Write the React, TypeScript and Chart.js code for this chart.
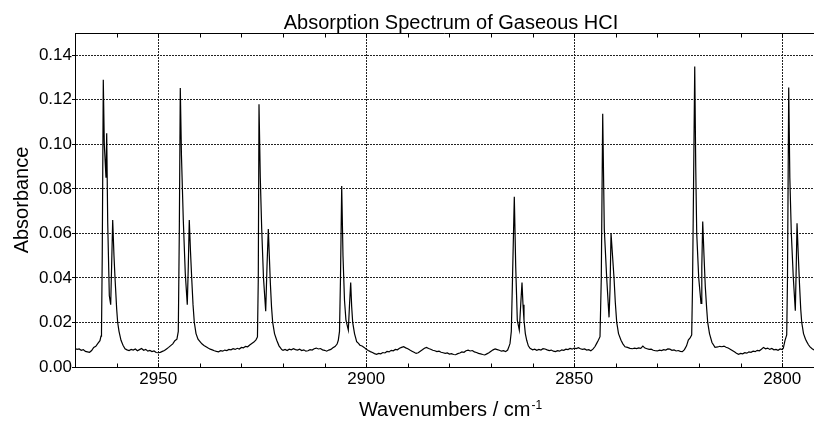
import { useEffect, useRef } from 'react';
import { Chart, registerables } from 'chart.js';

Chart.register(...registerables);

// ---- data: [wavenumber (cm-1), absorbance] ----
const baseline1: [number, number][] = [
  [2970.0, 0.0084], [2969.5, 0.0079], [2969.0, 0.0081], [2968.5, 0.0075], [2968.0, 0.0078],
  [2967.5, 0.0070], [2967.0, 0.0068], [2966.5, 0.0066], [2966.0, 0.0074], [2965.5, 0.0088],
  [2965.0, 0.0093], [2964.5, 0.0106], [2964.0, 0.0118], [2963.75, 0.0139],
];
const bandR3: [number, number][] = [
  [2963.63, 0.016], [2963.45, 0.05], [2963.2, 0.129], [2962.96, 0.1], [2962.55, 0.085],
  [2962.38, 0.105], [2962.14, 0.065], [2961.75, 0.032], [2961.42, 0.028], [2961.2, 0.045],
  [2960.94, 0.066], [2960.63, 0.05], [2960.38, 0.04], [2959.98, 0.026], [2959.74, 0.02],
  [2959.42, 0.016], [2958.94, 0.012], [2958.46, 0.0098], [2957.98, 0.0082],
];
const baseline2: [number, number][] = [
  [2957.5, 0.0077], [2957.0, 0.0074], [2956.5, 0.0079], [2956.0, 0.0076], [2955.5, 0.0081],
  [2955.0, 0.0073], [2954.5, 0.0078], [2954.0, 0.0083], [2953.5, 0.0075], [2953.0, 0.0079],
  [2952.5, 0.0071], [2952.0, 0.0074], [2951.5, 0.0069], [2951.0, 0.0072], [2950.5, 0.0065],
  [2950.0, 0.0064], [2949.5, 0.0066], [2949.0, 0.007], [2948.5, 0.0074], [2948.0, 0.0081],
  [2947.5, 0.0088], [2947.0, 0.0096], [2946.5, 0.0104], [2946.0, 0.0118], [2945.5, 0.0125],
];
const bandR2: [number, number][] = [
  [2945.17, 0.016], [2944.93, 0.06], [2944.69, 0.1253], [2944.41, 0.095], [2943.97, 0.066],
  [2943.49, 0.042], [2943.01, 0.028], [2942.77, 0.045], [2942.53, 0.066], [2942.24, 0.052],
  [2941.95, 0.04], [2941.63, 0.028], [2941.32, 0.02], [2940.91, 0.015], [2940.43, 0.0125],
  [2939.95, 0.0114], [2939.5, 0.0104], [2939.0, 0.0097], [2938.5, 0.0091], [2938.0, 0.0085],
];
const baseline3: [number, number][] = [
  [2937.5, 0.008], [2937.0, 0.0077], [2936.5, 0.0073], [2936.0, 0.007], [2935.5, 0.0068],
  [2935.0, 0.0073], [2934.5, 0.0071], [2934.0, 0.0076], [2933.5, 0.0074], [2933.0, 0.0079],
  [2932.5, 0.0077], [2932.0, 0.0082], [2931.5, 0.0079], [2931.0, 0.0084], [2930.5, 0.0081],
  [2930.0, 0.0088], [2929.5, 0.0086], [2929.0, 0.0093], [2928.5, 0.0091], [2928.0, 0.0099],
  [2927.5, 0.0106], [2927.0, 0.0112], [2926.5, 0.0122], [2926.14, 0.0135],
];
const bandR1: [number, number][] = [
  [2925.94, 0.04], [2925.77, 0.118], [2925.46, 0.085], [2925.12, 0.062], [2924.69, 0.04],
  [2924.16, 0.025], [2923.85, 0.045], [2923.53, 0.062], [2923.29, 0.05], [2923.05, 0.038],
  [2922.76, 0.027], [2922.48, 0.02], [2922.04, 0.015], [2921.51, 0.012], [2920.96, 0.0095],
  [2920.31, 0.0078],
];
const baseline4: [number, number][] = [
  [2920.0, 0.0075], [2919.5, 0.0079], [2919.0, 0.0074], [2918.5, 0.008], [2918.0, 0.0077],
  [2917.5, 0.0082], [2917.0, 0.0078], [2916.5, 0.0076], [2916.0, 0.008], [2915.5, 0.0074],
  [2915.0, 0.0077], [2914.5, 0.0071], [2914.0, 0.0073], [2913.5, 0.0078], [2913.0, 0.0076],
  [2912.5, 0.0082], [2912.0, 0.0085], [2911.5, 0.0081], [2911.0, 0.0083], [2910.5, 0.0077],
  [2910.0, 0.0075], [2909.5, 0.0071], [2909.0, 0.0076], [2908.5, 0.0079], [2908.0, 0.0086],
  [2907.5, 0.0092], [2907.0, 0.0103], [2906.71, 0.012],
];
const bandR0: [number, number][] = [
  [2906.42, 0.016], [2906.18, 0.04], [2905.89, 0.0813], [2905.58, 0.05], [2905.22, 0.03],
  [2904.87, 0.021], [2904.3, 0.0166], [2904.01, 0.028], [2903.73, 0.0379], [2903.49, 0.027],
  [2903.25, 0.02], [2902.81, 0.015], [2902.29, 0.0114], [2901.85, 0.0106], [2901.51, 0.0098],
  [2901.0, 0.0094], [2900.5, 0.0088], [2900.0, 0.008],
];
const baseline5: [number, number][] = [
  [2899.5, 0.0074], [2899.0, 0.0069], [2898.5, 0.0065], [2898.0, 0.006], [2897.5, 0.0057],
  [2897.0, 0.0061], [2896.5, 0.0059], [2896.0, 0.0065], [2895.5, 0.0063], [2895.0, 0.007],
  [2894.5, 0.0068], [2894.0, 0.0075], [2893.5, 0.0073], [2893.0, 0.0079], [2892.5, 0.0077],
  [2892.0, 0.0084], [2891.5, 0.0088], [2891.0, 0.0091], [2890.5, 0.0086], [2890.0, 0.0082],
  [2889.5, 0.0076], [2889.0, 0.0071], [2888.5, 0.0066], [2888.0, 0.0061], [2887.5, 0.0064],
  [2887.0, 0.0071], [2886.5, 0.0077], [2886.0, 0.0084], [2885.5, 0.0088], [2885.0, 0.0083],
  [2884.5, 0.008], [2884.0, 0.0075], [2883.5, 0.0073], [2883.0, 0.0069], [2882.5, 0.0071],
  [2882.0, 0.0066], [2881.5, 0.0064], [2881.0, 0.0061], [2880.5, 0.0063], [2880.0, 0.0058],
  [2879.5, 0.006], [2879.0, 0.0056], [2878.5, 0.0055], [2878.0, 0.006], [2877.5, 0.0063],
  [2877.0, 0.0068], [2876.5, 0.0066], [2876.0, 0.0073], [2875.5, 0.0076], [2875.0, 0.0072],
  [2874.5, 0.0074], [2874.0, 0.0068], [2873.5, 0.0065], [2873.0, 0.0061], [2872.5, 0.0059],
  [2872.0, 0.0056], [2871.5, 0.0054], [2871.0, 0.0059], [2870.5, 0.0064], [2870.0, 0.0071],
  [2869.5, 0.0077], [2869.0, 0.0081], [2868.5, 0.0078], [2868.0, 0.0075], [2867.5, 0.0071],
  [2867.0, 0.0073], [2866.5, 0.0069], [2866.0, 0.0076], [2865.6, 0.0096], [2865.43, 0.0106],
];
const bandP1: [number, number][] = [
  [2865.12, 0.016], [2864.83, 0.04], [2864.4, 0.0765], [2864.06, 0.045], [2863.68, 0.021],
  [2863.2, 0.0166], [2862.86, 0.028], [2862.55, 0.0379], [2862.31, 0.028], [2862.07, 0.021],
  [2861.75, 0.015], [2861.42, 0.012], [2861.03, 0.0095], [2860.62, 0.0084],
];
const baseline6: [number, number][] = [
  [2860.0, 0.0077], [2859.5, 0.008], [2859.0, 0.0075], [2858.5, 0.0079], [2858.0, 0.0076],
  [2857.5, 0.0082], [2857.0, 0.0081], [2856.5, 0.0077], [2856.0, 0.0074], [2855.5, 0.0076],
  [2855.0, 0.0071], [2854.5, 0.0069], [2854.0, 0.0073], [2853.5, 0.0071], [2853.0, 0.0077],
  [2852.5, 0.0075], [2852.0, 0.008], [2851.5, 0.0078], [2851.0, 0.0083], [2850.5, 0.008],
  [2850.0, 0.0085], [2849.5, 0.0083], [2849.0, 0.0087], [2848.5, 0.0082], [2848.0, 0.0079],
  [2847.5, 0.0081], [2847.0, 0.0076], [2846.5, 0.0078], [2846.0, 0.0073], [2845.5, 0.008],
  [2845.0, 0.0092], [2844.6, 0.0106], [2844.2, 0.012], [2843.8, 0.0136],
];
const bandP2: [number, number][] = [
  [2843.49, 0.04], [2843.15, 0.1137], [2842.77, 0.062], [2842.19, 0.04], [2841.63, 0.0223],
  [2841.39, 0.035], [2841.15, 0.06], [2840.79, 0.05], [2840.43, 0.04], [2840.12, 0.029],
  [2839.78, 0.02], [2839.35, 0.015], [2838.75, 0.012], [2838.3, 0.0104], [2837.79, 0.0091],
  [2837.2, 0.0088], [2836.59, 0.0084],
];
const baseline7: [number, number][] = [
  [2836.0, 0.0082], [2835.5, 0.0085], [2835.0, 0.0083], [2834.5, 0.0086], [2834.0, 0.0084],
  [2833.5, 0.0094], [2833.0, 0.0085], [2832.5, 0.0082], [2832.0, 0.0079], [2831.5, 0.008],
  [2831.0, 0.0075], [2830.5, 0.0073], [2830.0, 0.0072], [2829.5, 0.0076], [2829.0, 0.0074],
  [2828.5, 0.0078], [2828.0, 0.0076], [2827.5, 0.0081], [2827.0, 0.008], [2826.5, 0.0075],
  [2826.0, 0.0077], [2825.5, 0.0072], [2825.0, 0.0074], [2824.5, 0.007], [2824.0, 0.0069],
  [2823.5, 0.0078], [2823.0, 0.0095], [2822.57, 0.0121], [2822.1, 0.0132], [2821.76, 0.0144],
];
const bandP3: [number, number][] = [
  [2821.57, 0.035], [2821.32, 0.08], [2821.03, 0.135], [2820.79, 0.09], [2820.55, 0.06],
  [2820.07, 0.04], [2819.52, 0.0286], [2819.33, 0.045], [2819.11, 0.0653], [2818.8, 0.05],
  [2818.49, 0.036], [2818.15, 0.026], [2817.91, 0.02], [2817.48, 0.015], [2816.88, 0.011],
  [2816.15, 0.0088],
];
const baseline8: [number, number][] = [
  [2815.5, 0.009], [2815.0, 0.0093], [2814.5, 0.0091], [2814.0, 0.0094], [2813.5, 0.0089],
  [2813.0, 0.0085], [2812.5, 0.008], [2812.0, 0.0074], [2811.5, 0.0068], [2811.0, 0.0062],
  [2810.5, 0.0057], [2810.0, 0.0061], [2809.5, 0.0059], [2809.0, 0.0064], [2808.5, 0.0062],
  [2808.0, 0.0068], [2807.5, 0.0066], [2807.0, 0.0071], [2806.5, 0.0069], [2806.0, 0.0075],
  [2805.5, 0.0073], [2805.0, 0.008], [2804.5, 0.0088], [2804.0, 0.0082], [2803.5, 0.0085],
  [2803.0, 0.0079], [2802.5, 0.0083], [2802.0, 0.0077], [2801.5, 0.0079], [2801.0, 0.0075],
  [2800.5, 0.0081], [2800.0, 0.0078], [2799.74, 0.0084], [2799.33, 0.012], [2798.92, 0.0144],
];
const bandP4: [number, number][] = [
  [2798.73, 0.04], [2798.44, 0.1255], [2798.17, 0.085], [2797.81, 0.06], [2797.33, 0.04],
  [2796.85, 0.0253], [2796.63, 0.045], [2796.44, 0.0646], [2796.13, 0.05], [2795.84, 0.037],
  [2795.55, 0.026], [2795.31, 0.02], [2794.88, 0.015], [2794.4, 0.0125], [2794.11, 0.0114],
  [2793.7, 0.01], [2793.32, 0.009], [2792.8, 0.0082], [2792.36, 0.0076],
];

const segments = [
  baseline1, bandR3, baseline2, bandR2, baseline3, bandR1, baseline4, bandR0,
  baseline5, bandP1, baseline6, bandP2, baseline7, bandP3, baseline8, bandP4,
];

const xTickValues = [2960, 2950, 2940, 2930, 2920, 2910, 2900, 2890, 2880, 2870, 2860, 2850, 2840, 2830, 2820, 2810, 2800];
const xLabeledTicks = [2950, 2900, 2850, 2800];
const yTickValues = [0, 0.02, 0.04, 0.06, 0.08, 0.1, 0.12, 0.14];
const xMin = 2792.36;
const xMax = 2970;
const yMin = 0;
const yMax = 0.15;

const titleText = 'Absorption Spectrum of Gaseous HCI';
const yTitleText = 'Absorbance';
const xTitleText = 'Wavenumbers / cm';
const xTitleSup = '-1';

const FONT = '"Liberation Sans", Arial, sans-serif';

const overlayPlugin = {
  id: 'overlay',
  afterDraw(chart: any) {
    const { ctx, chartArea: a, scales } = chart;
    const xs = scales.x;
    ctx.save();
    ctx.strokeStyle = '#000';
    ctx.lineWidth = 1;
    ctx.setLineDash([]);
    ctx.beginPath();
    const topY = Math.round(a.top) + 0.5;
    const botY = Math.round(a.bottom) + 0.5;
    ctx.moveTo(a.left, topY);
    ctx.lineTo(a.right, topY);
    for (const v of xTickValues) {
      const px = Math.round(xs.getPixelForValue(v)) + 0.5;
      ctx.moveTo(px, botY);
      ctx.lineTo(px, botY - 4);
      ctx.moveTo(px, topY);
      ctx.lineTo(px, topY + 4);
    }
    ctx.stroke();

    ctx.fillStyle = '#000';
    ctx.font = `20px ${FONT}`;
    ctx.textAlign = 'center';
    ctx.textBaseline = 'alphabetic';
    ctx.fillText(titleText, 451, 29);

    // y axis title
    ctx.save();
    ctx.translate(28, (a.top + a.bottom) / 2);
    ctx.rotate(-Math.PI / 2);
    ctx.textAlign = 'center';
    ctx.fillText(yTitleText, 0, 0);
    ctx.restore();

    // x axis title with superscript
    ctx.font = `20px ${FONT}`;
    const w1 = ctx.measureText(xTitleText).width;
    ctx.font = `12px ${FONT}`;
    const w2 = ctx.measureText(xTitleSup).width;
    const startX = 450 - (w1 + w2) / 2;
    ctx.textAlign = 'left';
    ctx.font = `20px ${FONT}`;
    ctx.fillText(xTitleText, startX, 416);
    ctx.font = `12px ${FONT}`;
    ctx.fillText(xTitleSup, startX + w1 + 1, 409);
    ctx.restore();
  },
};

export default function App() {
  const ref = useRef<HTMLCanvasElement | null>(null);
  useEffect(() => {
    if (!ref.current) return;
    const points = segments.flat().map(([x, y]) => ({ x, y }));
    const chart = new Chart(ref.current, {
      type: 'line',
      data: {
        datasets: [
          {
            data: points,
            borderColor: '#000',
            borderWidth: 1.2,
            pointRadius: 0,
            tension: 0,
            fill: false,
          },
        ],
      },
      options: {
        animation: false,
        responsive: false,
        devicePixelRatio: 1,
        layout: { padding: { top: 33, left: 0, right: 0, bottom: 0 } },
        plugins: {
          legend: { display: false },
          title: { display: false },
          tooltip: { enabled: false },
        },
        scales: {
          x: {
            type: 'linear',
            reverse: true,
            min: xMin,
            max: xMax,
            afterBuildTicks: (s: any) => {
              s.ticks = xTickValues.map((v) => ({ value: v }));
            },
            afterFit: (s: any) => {
              s.height = 56;
            },
            ticks: {
              autoSkip: false,
              maxRotation: 0,
              minRotation: 0,
              padding: 2,
              color: '#000',
              font: { family: FONT, size: 17 },
              callback: (v: any) => (xLabeledTicks.includes(Number(v)) ? String(v) : ''),
            },
            grid: {
              drawTicks: false,
              lineWidth: 1,
              color: (c: any) =>
                c.tick && xLabeledTicks.includes(c.tick.value) ? '#222' : 'rgba(0,0,0,0)',
            },
            border: { display: true, color: '#000', width: 1, dash: [2, 1] },
          },
          y: {
            type: 'linear',
            min: yMin,
            max: yMax,
            afterBuildTicks: (s: any) => {
              s.ticks = yTickValues.map((v) => ({ value: v }));
            },
            afterFit: (s: any) => {
              s.width = 75;
            },
            ticks: {
              padding: 0,
              color: '#000',
              font: { family: FONT, size: 17 },
              callback: (v: any) => Number(v).toFixed(2),
            },
            grid: {
              drawTicks: true,
              tickLength: 3,
              lineWidth: 1,
              color: (c: any) => (c.tick && c.tick.value === 0 ? 'rgba(0,0,0,0)' : '#222'),
              tickColor: '#000',
            },
            border: { display: true, color: '#000', width: 1, dash: [2, 1] },
          },
        },
      },
      plugins: [overlayPlugin],
    });
    return () => chart.destroy();
  }, []);
  return (
    <div style={{ position: 'absolute', left: 0, top: 0, width: 814, height: 423 }}>
      <canvas ref={ref} width={814} height={423} style={{ width: 814, height: 423 }} />
    </div>
  );
}
